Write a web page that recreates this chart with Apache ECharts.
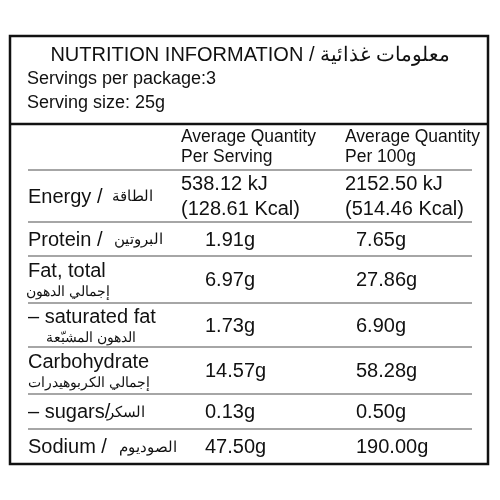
<!DOCTYPE html>
<html><head><meta charset="utf-8">
<script src="https://cdn.jsdelivr.net/npm/echarts@6/dist/echarts.min.js"></script>
<style>html,body{margin:0;padding:0;background:#fff}#c{width:500px;height:500px}</style>
</head><body><div id="c"></div>
<script>
const title = 'NUTRITION INFORMATION / معلومات غذائية';
const servingsText = 'Servings per package:3';
const servingSizeText = 'Serving size: 25g';
const headers = ['Average Quantity\nPer Serving', 'Average Quantity\nPer 100g'];
const nutrientsEn = ['Energy / ', 'Protein / ', 'Fat, total', '– saturated fat', 'Carbohydrate', '– sugars/', 'Sodium / '];
const nutrientsAr = ['الطاقة', 'البروتين', 'إجمالي الدهون', 'الدهون المشبّعة', 'إجمالي الكربوهيدرات', 'السكر', 'الصوديوم'];
const perServing = ['538.12 kJ\n(128.61 Kcal)', '1.91g', '6.97g', '1.73g', '14.57g', '0.13g', '47.50g'];
const per100g = ['2152.50 kJ\n(514.46 Kcal)', '7.65g', '27.86g', '6.90g', '58.28g', '0.50g', '190.00g'];

const F = 'Liberation Sans, Arial, sans-serif';
const rowLines = [170, 222, 256, 303, 347, 394, 429, 464];
const g = [];
g.push({type:'rect', shape:{x:10,y:36,width:478,height:428}, style:{fill:'none',stroke:'#111',lineWidth:2.5}});
g.push({type:'line', shape:{x1:10,y1:124,x2:488,y2:124}, style:{stroke:'#111',lineWidth:2.5}});
g.push({type:'text', x:250, y:55, style:{text:title, font:'20px '+F, fill:'#111', align:'center', verticalAlign:'middle'}});
g.push({type:'text', x:27, y:79, style:{text:servingsText, font:'18px '+F, fill:'#111', verticalAlign:'middle'}});
g.push({type:'text', x:27, y:103, style:{text:servingSizeText, font:'18px '+F, fill:'#111', verticalAlign:'middle'}});
g.push({type:'text', x:181, y:147, style:{text:headers[0], font:'17.5px '+F, lineHeight:20, fill:'#111', verticalAlign:'middle'}});
g.push({type:'text', x:345, y:147, style:{text:headers[1], font:'17.5px '+F, lineHeight:20, fill:'#111', verticalAlign:'middle'}});
for (let i=0;i<rowLines.length-1;i++){
  g.push({type:'line', shape:{x1:28,y1:rowLines[i],x2:472,y2:rowLines[i]}, style:{stroke:'#888',lineWidth:1.3}});
}
const inline = [true,true,false,false,false,true,true];
const arRight = [153, 163, 110, 136, 150, 145, 177];
for (let i=0;i<nutrientsEn.length;i++){
  const top=rowLines[i], bot=rowLines[i+1], mid=(top+bot)/2+1;
  if (inline[i]) {
    g.push({type:'text', x:28, y:mid, style:{text:nutrientsEn[i], font:'20px '+F, fill:'#111', verticalAlign:'middle'}});
    g.push({type:'text', x:arRight[i], y:mid, style:{text:nutrientsAr[i], font:'15px '+F, fill:'#111', align:'right', verticalAlign:'middle'}});
  } else {
    g.push({type:'text', x:28, y:mid-9, style:{text:nutrientsEn[i], font:'20px '+F, fill:'#111', verticalAlign:'middle'}});
    g.push({type:'text', x:arRight[i], y:mid+12, style:{text:nutrientsAr[i], font:'14px '+F, fill:'#111', align:'right', verticalAlign:'middle'}});
  }
  const multi = perServing[i].indexOf('\n')>=0;
  g.push({type:'text', x: multi?181:205, y:mid, style:{text:perServing[i], font:'20px '+F, lineHeight:25, fill:'#111', verticalAlign:'middle'}});
  g.push({type:'text', x: multi?345:356, y:mid, style:{text:per100g[i], font:'20px '+F, lineHeight:25, fill:'#111', verticalAlign:'middle'}});
}
const chart = echarts.init(document.getElementById('c'));
chart.setOption({graphic:{elements:g}});
</script></body></html>
